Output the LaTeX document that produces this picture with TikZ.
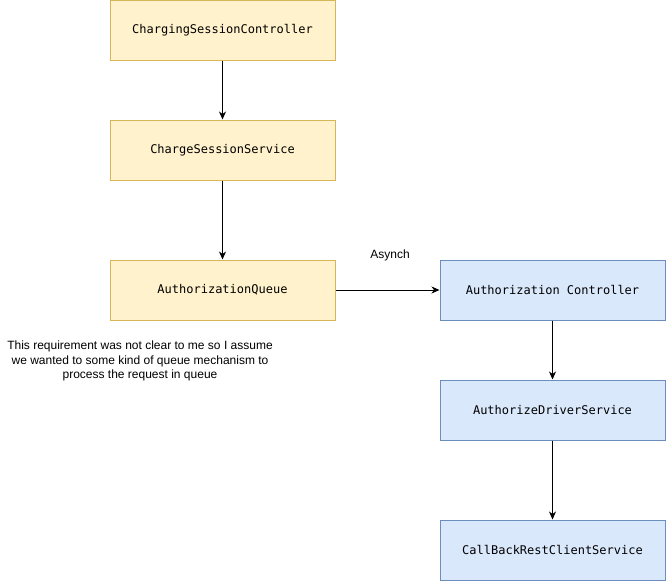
\documentclass[tikz,border=0pt]{standalone}
\usepackage{fontspec}
\setmainfont{Liberation Sans}
\newfontfamily\monofont{DejaVu Sans Mono}
\usetikzlibrary{arrows.meta}
\definecolor{yfill}{HTML}{FFF2CC}
\definecolor{ydraw}{HTML}{D6B656}
\definecolor{bfill}{HTML}{DAE8FC}
\definecolor{bdraw}{HTML}{6C8EBF}
\begin{document}
\begin{tikzpicture}[x=1pt,y=-1pt,
  ybox/.style={draw=ydraw,fill=yfill,line width=1pt,minimum width=225pt,minimum height=60pt,inner sep=0pt,font=\monofont\fontsize{12}{14}\selectfont},
  bbox/.style={draw=bdraw,fill=bfill,line width=1pt,minimum width=225pt,minimum height=60pt,inner sep=0pt,font=\monofont\fontsize{12}{14}\selectfont},
  conn/.style={draw=black,line width=1pt,-{Stealth[length=8pt,width=7pt,inset=2.5pt]}}]
\useasboundingbox (0,0) rectangle (666,581);
\node[ybox] (csc) at (222.5,30.5) {ChargingSessionController};
\node[ybox] (css) at (222.5,150) {ChargeSessionService};
\node[ybox] (aq) at (222.5,290) {AuthorizationQueue};
\node[bbox] (ac) at (552.5,290) {Authorization Controller};
\node[bbox] (ads) at (552.5,410) {AuthorizeDriverService};
\node[bbox] (cb) at (552.5,550) {CallBackRestClientService};
\draw[conn] (csc) -- (css);
\draw[conn] (css) -- (aq);
\draw[conn] (aq) -- (ac);
\draw[conn] (ac) -- (ads);
\draw[conn] (ads) -- (cb);
\node[font=\fontsize{12}{14}\selectfont] (asy) at (390,255) {Asynch};
\node[font=\fontsize{12}{14.5}\selectfont,align=center] (note) at (140,361) {This requirement was not clear to me so I assume\\we wanted to some kind of queue mechanism to\\process the request in queue};
\end{tikzpicture}
\end{document}
